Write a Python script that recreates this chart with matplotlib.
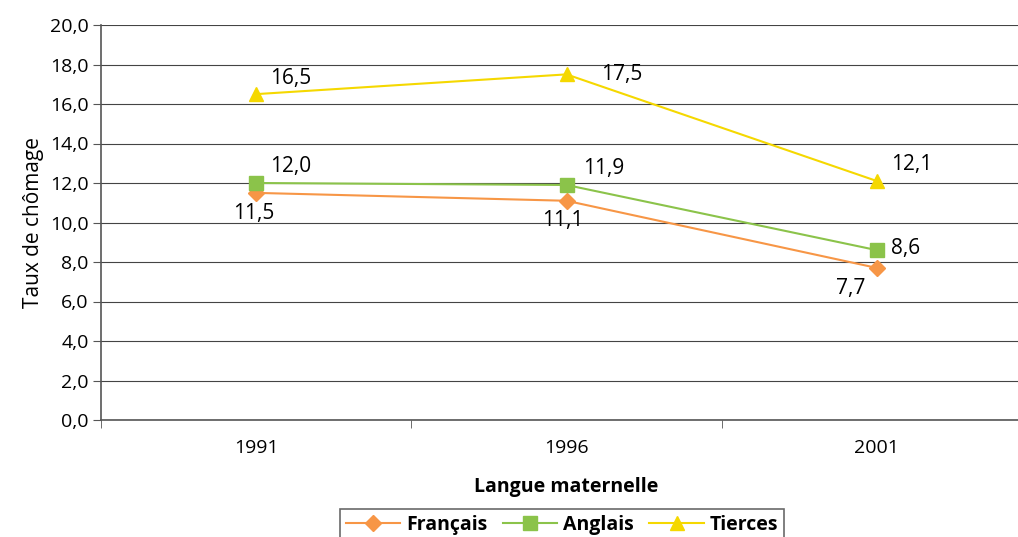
import matplotlib.pyplot as plt
import numpy as np

plt.rcParams['font.family'] = ['Open Sans', 'DejaVu Sans']

years = ["1991", "1996", "2001"]
francais = [11.5, 11.1, 7.7]
anglais = [12.0, 11.9, 8.6]
tierces = [16.5, 17.5, 12.1]

series = [
    ("Français", francais, "#f79646", "D", 8),
    ("Anglais", anglais, "#8bc34a", "s", 10),
    ("Tierces", tierces, "#f5d800", "^", 10),
]

# label offsets in points (dx, dy, ha, va)
offsets = {
    "Français": [(-2, -7, "center", "top"), (-3, -7, "center", "top"), (-8, -7, "right", "top")],
    "Anglais": [(10, 4, "left", "bottom"), (12, 4, "left", "bottom"), (10, 1, "left", "center")],
    "Tierces": [(10, 4, "left", "bottom"), (25, 0, "left", "center"), (10, 4, "left", "bottom")],
}

fig = plt.figure(figsize=(10.18, 5.37), dpi=100)
ax = fig.add_axes([101 / 1018, 1 - 420 / 537, 931 / 1018, 395 / 537])

x = np.arange(len(years))
handles = []
for name, vals, color, marker, ms in series:
    h, = ax.plot(x, vals, color=color, marker=marker, markersize=ms, lw=1.5, label=name)
    handles.append(h)
    for xi, v, (dx, dy, ha, va) in zip(x, vals, offsets[name]):
        ax.annotate(f"{v:.1f}".replace(".", ","), (xi, v), xytext=(dx, dy),
                    textcoords="offset points", ha=ha, va=va, fontsize=15)

ax.set_xlim(-0.5, 2.5)
ax.set_ylim(0, 20)
ax.set_yticks(np.arange(0, 21, 2))
ax.set_yticklabels([f"{t:.1f}".replace(".", ",") for t in np.arange(0, 21, 2)], fontsize=14)
ax.set_xticks(x)
ax.set_xticklabels(years, fontsize=14)
ax.set_xticks([-0.5, 0.5, 1.5], minor=True)
ax.tick_params(axis="x", which="major", length=0, pad=14)
ax.tick_params(axis="x", which="minor", length=6, color="#555555", direction="out")
ax.tick_params(axis="y", length=6, color="#555555", direction="out", pad=3)
ax.grid(axis="y", color="#444444", lw=0.8)
ax.set_axisbelow(True)
for s in ["top", "right"]:
    ax.spines[s].set_visible(False)
ax.spines["left"].set_color("#555555")
ax.spines["bottom"].set_color("#555555")
ax.spines["left"].set_linewidth(1.2)
ax.spines["bottom"].set_linewidth(1.2)

ax.set_ylabel("Taux de chômage", fontsize=15, labelpad=4)
ax.set_xlabel("Langue maternelle", fontsize=14, fontweight="bold", labelpad=14)

leg = fig.legend(handles=handles, loc="lower center", bbox_to_anchor=(562 / 1018, -0.025),
                 ncol=3, frameon=True, fancybox=False, edgecolor="#444444",
                 prop={"weight": "bold", "size": 14}, handlelength=2.8,
                 columnspacing=0.8, handletextpad=0.3, borderpad=0.3)
leg.get_frame().set_linewidth(1.2)

fig.savefig("out.png", dpi=100)
